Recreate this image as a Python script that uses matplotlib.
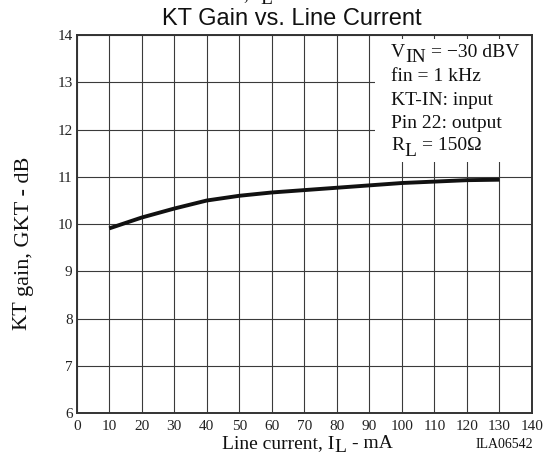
import matplotlib
matplotlib.use("Agg")
import matplotlib.pyplot as plt
from matplotlib.patches import Rectangle
from matplotlib.transforms import IdentityTransform

# KT gain against line current
line_current_ma = [10, 20, 30, 40, 50, 60, 70, 80, 90, 100, 110, 120, 130]
kt_gain_db = [9.91, 10.14, 10.33, 10.50, 10.60, 10.67, 10.72, 10.77, 10.82,
              10.87, 10.90, 10.93, 10.94]
x_ticks = list(range(0, 141, 10))
y_ticks = list(range(6, 15))

SERIF = ["Liberation Serif", "DejaVu Serif"]
SANS = ["Liberation Sans", "DejaVu Sans"]
plt.rcParams["font.family"] = SERIF

W, H = 547, 463
fig = plt.figure(figsize=(W / 100, H / 100), dpi=100)
ax = fig.add_axes([76.7 / W, 1 - 413.3 / H, (532 - 76.7) / W, (413.3 - 35) / H])

ax.set_xlim(0, 140)
ax.set_ylim(6, 14)
ax.set_xticks(x_ticks)
ax.set_yticks(y_ticks)
ax.tick_params(length=0, labelsize=11, colors="#222222")
ax.tick_params(axis="x", pad=5)
ax.tick_params(axis="y", pad=3)
ax.set_axisbelow(True)
ax.grid(True, color="#3a3a3a", lw=0.8)
for sp in ax.spines.values():
    sp.set_color("#333333")
    sp.set_linewidth(1.4)

# white panel behind the conditions text
ax.add_patch(Rectangle((91.6, 11.31), 48.4, 2.6, facecolor="white",
                       edgecolor="none", zorder=1.5))

ax.plot(line_current_ma, kt_gain_db, color="#111111", lw=2.8,
        solid_capstyle="butt", zorder=3)

renderer = fig.canvas.get_renderer()


def text_runs(x, y, runs, size, rotation=0):
    """Place text pieces one after another; x, y are pixels from top-left.
    Each run is (text, baseline drop in px, gap before in px)."""
    pos = 0.0
    for txt, drop, gap in runs:
        pos += gap
        if rotation == 0:
            px, py = x + pos, H - y - drop
        else:
            px, py = x + drop, H - y + pos
        t = fig.text(px, py, txt, transform=IdentityTransform(), fontsize=size,
                     family=SERIF, ha="left", va="baseline",
                     rotation=rotation, rotation_mode="anchor", color="#111111")
        bb = t.get_window_extent(renderer)
        pos += bb.width if rotation == 0 else bb.height


# title (upper line runs off the top edge)
fig.text(292 / W, 1 - 25 / H, "KT Gain vs. Line Current", family=SANS,
         fontsize=17, ha="center", va="baseline", color="#111111")
text_runs(244, -1, [(", I", 0, 0), ("L", 5, 0.5)], 14)

# conditions
fs = 14
text_runs(391, 57, [("V", 0, 0), ("IN", 5, 0.5), ("= \u221230 dBV", 0, 5)], fs)
text_runs(391, 81, [("fin = 1 kHz", 0, 0)], fs)
text_runs(391, 105, [("KT-IN: input", 0, 0)], fs)
text_runs(391, 127.5, [("Pin 22: output", 0, 0)], fs)
text_runs(391, 150, [("R", 0, 0), ("L", 6, 0.5), ("= 150\u03A9", 0, 5)], fs)

# axis labels
text_runs(222, 448, [("Line current, I", 0, 0), ("L", 4.5, 0.5), ("- mA", 0, 5)], 14)
text_runs(26, 330, [("KT", 0, 0), ("gain, GKT - dB", 3, 4)], 16, rotation=90)
fig.text(533 / W, 1 - 448 / H, "ILA06542", family=SERIF, fontsize=10,
         ha="right", va="baseline", color="#111111")

fig.savefig("out.png", dpi=100)
